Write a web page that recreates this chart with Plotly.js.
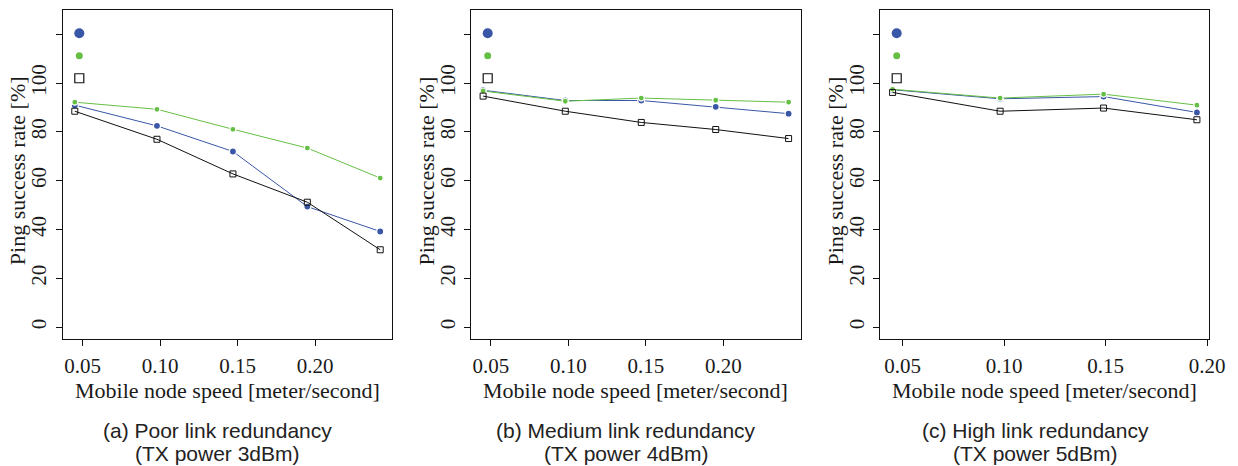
<!DOCTYPE html>
<html>
<head>
<meta charset="utf-8">
<script src="https://cdn.plot.ly/plotly-3.0.1.min.js"></script>
<style>
  html, body { margin: 0; padding: 0; background: #fff; }
  #chart { width: 1238px; height: 466px; }
</style>
</head>
<body>
<div id="chart"></div>
<script>
// Mobile node speed [m/s] at which pings were measured
const speedsPoor = [0.045, 0.098, 0.147, 0.195, 0.242];
const speedsMedium = [0.045, 0.098, 0.147, 0.195, 0.242];
const speedsHigh = [0.045, 0.098, 0.149, 0.195];

// Ping success rate [%] per series (blue circles, green dots, black squares)
const poorBlue = [91.0, 82.5, 72.0, 49.4, 39.2];
const poorGreen = [92.2, 89.3, 81.1, 73.4, 61.1];
const poorBlack = [88.5, 77.0, 62.8, 51.2, 31.7];

const mediumBlue = [97.1, 92.9, 92.9, 90.3, 87.5];
const mediumGreen = [96.8, 92.6, 93.9, 93.0, 92.2];
const mediumBlack = [94.7, 88.5, 83.9, 81.0, 77.3];

const highBlue = [97.3, 93.6, 94.5, 88.0];
const highGreen = [97.5, 93.9, 95.5, 91.0];
const highBlack = [96.2, 88.5, 89.8, 85.0];

const xTickVals = [0.05, 0.10, 0.15, 0.20];
const xTickText = ['0.05', '0.10', '0.15', '0.20'];
const yTickVals = [0, 20, 40, 60, 80, 100, 120];
const yTickText = ['0', '20', '40', '60', '80', '100', ''];

const xTitle = 'Mobile node speed [meter/second]';
const yTitle = 'Ping success rate [%]';
const captionTitles = ['(a) Poor link redundancy', '(b) Medium link redundancy', '(c) High link redundancy'];
const captionPowers = ['(TX power 3dBm)', '(TX power 4dBm)', '(TX power 5dBm)'];

const BLUE = '#3a56a6';
const GREEN = '#66bf45';
const BLACK = '#111111';

const W = 1238, H = 466;
const px = v => v / W;
const py = v => 1 - v / H;

function seriesTraces(xs, blue, green, black, n) {
  const xa = n === 1 ? 'x' : 'x' + n;
  const ya = n === 1 ? 'y' : 'y' + n;
  const common = { xaxis: xa, yaxis: ya, mode: 'lines+markers', showlegend: false, hoverinfo: 'x+y' };
  return [
    Object.assign({}, common, { x: xs, y: blue, line: { color: BLUE, width: 1 },
      marker: { symbol: 'circle', size: 7, color: BLUE, line: { color: '#fff', width: 1.2 } } }),
    Object.assign({}, common, { x: xs, y: green, line: { color: GREEN, width: 1 },
      marker: { symbol: 'circle', size: 6, color: GREEN, line: { color: '#fff', width: 1.2 } } }),
    Object.assign({}, common, { x: xs, y: black, line: { color: BLACK, width: 1 },
      marker: { symbol: 'square-open', size: 6, color: BLACK, line: { color: BLACK, width: 1 } } })
  ];
}

// Legend keys (unlabelled): one legend per panel
function keyTraces(n) {
  const lg = n === 1 ? 'legend' : 'legend' + n;
  const xa = n === 1 ? 'x' : 'x' + n;
  const ya = n === 1 ? 'y' : 'y' + n;
  const base = { x: [null], y: [null], xaxis: xa, yaxis: ya, mode: 'markers', legend: lg, name: '', hoverinfo: 'skip' };
  return [
    Object.assign({}, base, { marker: { symbol: 'circle', size: 10, color: BLUE } }),
    Object.assign({}, base, { marker: { symbol: 'circle', size: 7, color: GREEN } }),
    Object.assign({}, base, { marker: { symbol: 'square-open', size: 9, color: BLACK, line: { width: 1.2, color: BLACK } } })
  ];
}

const data = [].concat(
  seriesTraces(speedsPoor, poorBlue, poorGreen, poorBlack, 1),
  seriesTraces(speedsMedium, mediumBlue, mediumGreen, mediumBlack, 2),
  seriesTraces(speedsHigh, highBlue, highGreen, highBlack, 3),
  keyTraces(1), keyTraces(2), keyTraces(3)
);

const serif = 'Liberation Serif, Times New Roman, serif';
const sans = 'Liberation Sans, Arial, sans-serif';

function xAxis(domain, range, anchor) {
  return {
    domain: domain, range: range, anchor: anchor,
    tickvals: xTickVals, ticktext: xTickText,
    ticks: 'outside', ticklen: 6, tickwidth: 1, tickcolor: BLACK, ticklabelstandoff: 1,
    showline: true, mirror: true, linecolor: BLACK, linewidth: 1,
    showgrid: false, zeroline: false,
    tickfont: { family: serif, size: 21, color: '#1a1a1a' }
  };
}
function yAxis(domain, anchor) {
  return {
    domain: domain, range: [-5, 130], anchor: anchor,
    tickvals: yTickVals, ticktext: yTickText, tickangle: -90,
    ticks: 'outside', ticklen: 6, tickwidth: 1, tickcolor: BLACK, ticklabelstandoff: 1,
    showline: true, mirror: true, linecolor: BLACK, linewidth: 1,
    showgrid: false, zeroline: false,
    tickfont: { family: serif, size: 21, color: '#1a1a1a' }
  };
}

const yDom = [py(339.3), py(10)];
const xDoms = [[62.7, 392.3], [471, 800.7], [880, 1209.3]];

function legendAt(markerX, topY) {
  return {
    x: px(markerX - 20), xanchor: 'left', y: py(topY), yanchor: 'top',
    bgcolor: 'rgba(0,0,0,0)', borderwidth: 0, font: { size: 15 },
    itemsizing: 'trace', traceorder: 'normal', tracegroupgap: 0, itemclick: false, itemdoubleclick: false
  };
}

const captionCenters = [217.5, 626.3, 1035.8];
const annotations = [];
xDoms.forEach((d, i) => {
  // axis titles
  annotations.push({
    xref: 'paper', yref: 'paper', x: px((d[0] + d[1]) / 2), y: py(390), xanchor: 'center', yanchor: 'middle',
    text: xTitle, showarrow: false, borderpad: 0, font: { family: serif, size: 22, color: '#1a1a1a' }
  });
  annotations.push({
    xref: 'paper', yref: 'paper', x: px(d[0] - 45.5), y: py(171), xanchor: 'center', yanchor: 'middle',
    text: yTitle, textangle: -90, showarrow: false, borderpad: 0, font: { family: serif, size: 22, color: '#1a1a1a' }
  });
  // panel captions
  annotations.push({
    xref: 'paper', yref: 'paper', x: px(captionCenters[i]), y: py(430.5), xanchor: 'center', yanchor: 'middle',
    text: captionTitles[i], showarrow: false, borderpad: 0, font: { family: sans, size: 21, color: '#222' }
  });
  annotations.push({
    xref: 'paper', yref: 'paper', x: px(captionCenters[i]), y: py(453.5), xanchor: 'center', yanchor: 'middle',
    text: captionPowers[i], showarrow: false, borderpad: 0, font: { family: sans, size: 21, color: '#222' }
  });
});

const layout = {
  width: W, height: H,
  margin: { l: 0, r: 0, t: 0, b: 0 },
  paper_bgcolor: '#fff', plot_bgcolor: '#fff',
  showlegend: true,
  xaxis: xAxis([px(xDoms[0][0]), px(xDoms[0][1])], [0.0372, 0.2498], 'y'),
  yaxis: yAxis(yDom, 'x'),
  xaxis2: xAxis([px(xDoms[1][0]), px(xDoms[1][1])], [0.0372, 0.2498], 'y2'),
  yaxis2: yAxis(yDom, 'x2'),
  xaxis3: xAxis([px(xDoms[2][0]), px(xDoms[2][1])], [0.0388, 0.2011], 'y3'),
  yaxis3: yAxis(yDom, 'x3'),
  legend: legendAt(79.3, 17),
  legend2: legendAt(487.7, 17),
  legend3: legendAt(896.7, 17),
  annotations: annotations
};

Plotly.newPlot('chart', data, layout, { staticPlot: true, displayModeBar: false });
</script>
</body>
</html>
